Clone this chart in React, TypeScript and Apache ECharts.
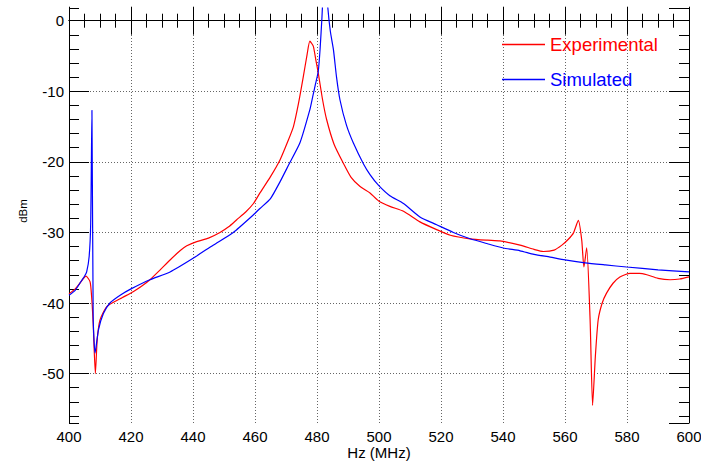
import React, { useEffect, useRef } from "react";
import * as echarts from "echarts";

// Experimental trace (MHz, dBm)
const expFreq = [
  400, 402, 403.5, 405.5, 406.8, 407.3, 407.8, 408.5, 409.1, 410, 412.2, 416.5,
  420.7, 423.5, 426.1, 429.4, 432.6, 435.8, 438, 441.2, 445, 448.7, 451.5, 454.1,
  457, 459.5, 461.6, 465, 468.1, 470.5, 472.4, 474, 475.6, 476.8, 477.7, 478.8,
  479.6, 480.4, 481.8, 483.1, 485.5, 488.5, 491, 493.9, 497.1, 499.8, 503.5,
  507.9, 513.2, 518.6, 523, 529.4, 535, 539, 545.5, 550, 553, 556.5, 559, 561,
  562.7, 564.3, 565.4, 566.1, 567, 568.1, 568.9, 569.8, 570.7, 572, 573.4, 575.5,
  577.7, 581, 584, 586.4, 590, 593.9, 597, 600,
];
const expDbm = [
  -38.7, -38.0, -37.2, -36.2, -37.0, -39.1, -42.9, -50.0, -45.2, -42.4, -40.5, -39.4,
  -38.4, -37.6, -36.7, -35.3, -33.9, -32.6, -31.9, -31.3, -30.8, -30.0, -29.2, -28.2,
  -27.1, -25.9, -24.4, -22.1, -19.7, -17.2, -15.0, -11.8, -7.9, -4.8, -2.9, -3.6,
  -5.5, -7.4, -11.2, -14.0, -17.5, -20.2, -22.2, -23.5, -24.4, -25.5, -26.3,
  -27.0, -28.5, -29.6, -30.4, -30.9, -31.1, -31.2, -31.8, -32.4, -32.7, -32.5, -31.8, -31.0,
  -30.1, -28.3, -31.1, -34.9, -32.2, -42.4, -54.5, -47.5, -42.4, -40.0, -38.6, -37.2,
  -36.3, -35.8, -35.8, -36.0, -36.5, -36.7, -36.6, -36.3,
];

// Simulated trace (MHz, dBm)
const simFreq = [
  400, 402, 403.5, 405, 405.7, 406.5, 407, 407.4, 407.8, 408.4, 409.5, 411.1,
  413.2, 416.5, 420, 426.1, 432.6, 439.9, 446.5, 453, 459.5, 461.6, 465, 468.1,
  471, 474.5, 477.7, 478.6, 479.5, 480.4, 481, 481.6, 482.5, 483.5, 484.3, 485.3,
  486.3, 487.4, 489.5, 491.7, 495, 497.1, 499.8, 503.5, 507.9, 513.2, 518.6, 524,
  529.4, 535, 540.1, 545.5, 550, 555.2, 560, 566.5, 573, 579.9, 590, 600,
];
const simDbm = [
  -38.9, -38.2, -37.2, -36.2, -35.6, -33.4, -28.7, -12.7, -42.0, -47.1, -43.8, -41.5,
  -40.0, -38.9, -38.0, -36.7, -35.6, -33.7, -31.8, -30.0, -27.5, -26.6, -25.2, -22.8,
  -20.3, -17.3, -12.6, -10.8, -9.0, -7.2, -4.0, 0.5, 8.0, 1.8, -1.5, -4.1,
  -8.0, -11.2, -14.8, -17.3, -20.3, -21.8, -23.3, -24.8, -25.9, -27.8, -28.9, -30.0,
  -30.9, -31.6, -32.2, -32.6, -33.1, -33.5, -33.9, -34.3, -34.6, -34.9, -35.3, -35.6,
];

const seriesNames = ["Experimental", "Simulated"];
const seriesColors = ["#ff0000", "#0000ff"];

const FONT = "'Liberation Sans', Arial, Helvetica, sans-serif";

export default function App() {
  const ref = useRef<HTMLDivElement>(null);

  useEffect(() => {
    if (!ref.current) return;
    const chart = echarts.init(ref.current, null, { renderer: "svg" });

    const gridLine = { show: true, lineStyle: { color: "#666", width: 1, type: [1, 2] as any } };
    const black = { color: "#000", width: 1 };

    const xCommon = {
      type: "value" as const,
      min: 400,
      max: 600,
      interval: 20,
      axisLine: { show: true, lineStyle: black },
      axisTick: { show: true, inside: true, length: 14, lineStyle: black },
      minorTick: { show: true, splitNumber: 4, length: 7, lineStyle: black },
    };
    const yCommon = {
      type: "value" as const,
      min: -57,
      max: 1.8,
    };

    chart.setOption({
      animation: false,
      backgroundColor: "#fff",
      grid: { left: 69, right: 22, top: 8, bottom: 39, outerBoundsMode: "none", containLabel: false },
      legend: {
        orient: "vertical",
        left: 502,
        top: 35,
        padding: 0,
        itemWidth: 43,
        itemHeight: 1.5,
        itemGap: 16,
        icon: "rect",
        textStyle: { fontSize: 18.5, fontFamily: FONT },
        data: seriesNames.map((n, i) => ({ name: n, textStyle: { color: seriesColors[i] } })),
      },
      xAxis: [
        {
          ...xCommon,
          position: "bottom",
          splitLine: gridLine,
          axisLabel: { fontSize: 15, lineHeight: 14, color: "#000", margin: 6, fontFamily: FONT },
          name: "Hz (MHz)",
          nameLocation: "middle",
          nameGap: 22,
          nameMoveOverlap: false,
          nameTextStyle: { fontSize: 15, lineHeight: 15, color: "#000", fontFamily: FONT },
        },
        {
          ...xCommon,
          position: "top",
          axisLabel: { show: false },
          splitLine: { show: false },
        },
      ],
      yAxis: [
        {
          ...yCommon,
          position: "left",
          splitNumber: 6,
          minInterval: 10,
          maxInterval: 10,
          axisLine: { show: true, lineStyle: black },
          axisTick: { show: true, inside: true, length: 20, lineStyle: black },
          axisLabel: {
            fontSize: 15,
            color: "#000",
            margin: 5,
            fontFamily: FONT,
            showMinLabel: false,
            showMaxLabel: false,
          },
          splitLine: { ...gridLine, showMinLine: false, showMaxLine: false },
          name: "dBm",
          nameLocation: "middle",
          nameGap: 40,
          nameMoveOverlap: false,
          nameTextStyle: { fontSize: 11.5, color: "#000", fontFamily: FONT, padding: [0, 0, 0, 9] },
        },
        {
          ...yCommon,
          position: "left",
          splitNumber: 30,
          minInterval: 2,
          maxInterval: 2,
          axisLine: { show: false },
          axisTick: { show: true, inside: true, length: 10, lineStyle: black },
          axisLabel: { show: false },
          splitLine: { show: false },
        },
        {
          ...yCommon,
          position: "right",
          splitNumber: 6,
          minInterval: 10,
          maxInterval: 10,
          axisLine: { show: true, lineStyle: black },
          axisTick: { show: true, inside: true, length: 20, lineStyle: black },
          axisLabel: { show: false },
          splitLine: { show: false },
        },
        {
          ...yCommon,
          position: "right",
          splitNumber: 30,
          minInterval: 2,
          maxInterval: 2,
          axisLine: { show: false },
          axisTick: { show: true, inside: true, length: 10, lineStyle: black },
          axisLabel: { show: false },
          splitLine: { show: false },
        },
      ],
      series: [
        {
          name: seriesNames[0],
          type: "line",
          xAxisIndex: 0,
          yAxisIndex: 0,
          data: expFreq.map((f, i) => [f, expDbm[i]]),
          symbol: "none",
          showSymbol: false,
          smooth: 0.2,
          clip: true,
          color: seriesColors[0],
          lineStyle: { color: seriesColors[0], width: 1.2 },
          z: 3,
        },
        {
          name: seriesNames[1],
          type: "line",
          xAxisIndex: 0,
          yAxisIndex: 0,
          data: simFreq.map((f, i) => [f, simDbm[i]]),
          symbol: "none",
          showSymbol: false,
          smooth: 0.2,
          clip: true,
          color: seriesColors[1],
          lineStyle: { color: seriesColors[1], width: 1.2 },
          z: 3,
        },
      ],
    });

    return () => chart.dispose();
  }, []);

  return (
    <div style={{ position: "fixed", left: 0, top: 0, width: 701, height: 462, overflow: "hidden", background: "#fff" }}>
      <div ref={ref} style={{ width: 711, height: 462 }} />
    </div>
  );
}
